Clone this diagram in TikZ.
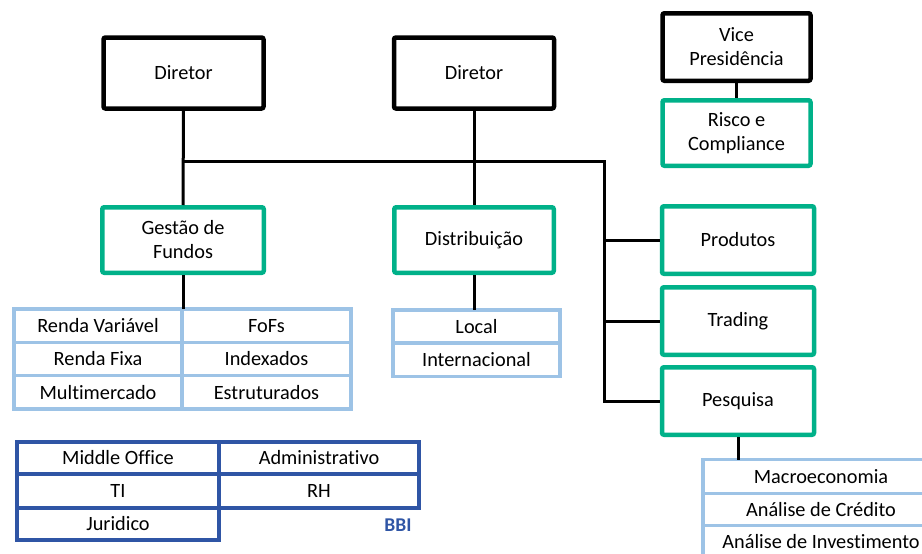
\documentclass[tikz,border=0pt]{standalone}
\usepackage{fontspec}
\setmainfont{Carlito}[Ligatures=NoCommon]
\definecolor{verde}{RGB}{0,177,137}
\definecolor{azulclaro}{RGB}{157,195,230}
\definecolor{azulbbi}{RGB}{47,85,165}
\tikzset{
  chefe/.style = {draw=black, line width=4.5pt, rounded corners=2pt,
                  align=center, inner sep=0pt, minimum width=#1},
  chefe/.default = 160pt,
  area/.style = {draw=verde, line width=4.5pt, rounded corners=2pt,
                 align=center, inner sep=0pt, minimum width=#1},
  area/.default = 152pt,
  cel/.style = {draw=#1, line width=3.5pt, inner sep=0pt, outer sep=0pt},
  cel/.default = azulclaro,
  liga/.style = {draw=black, line width=3pt}
}

\begin{document}
\begin{tikzpicture}[x=1pt, y=-1pt, font=\fontsize{20.3}{24}\selectfont]
	\def\hc{33.3pt}
	\def\bus{604}
	\clip (0,0) rectangle (922,554);

	% Diretoria
	\node[chefe, minimum height=71pt] (dirA) at (183.5,73) {Diretor};
	\node[chefe, minimum height=71pt] (dirB) at (474,73) {Diretor};
	\node[chefe=148pt, minimum height=67.5pt] (vp) at (736.5,47) {Vice\\Presidência};

	% Areas
	\node[area=148pt, minimum height=65.5pt] (risco) at (736.5,133) {Risco e\\Compliance};
	\node[area=161.5pt, minimum height=65.5pt] (gestao) at (183,240) {Gestão de\\Fundos};
	\node[area=159.5pt, minimum height=65.5pt] (distrib) at (474,240) {Distribuição};
	\node[area, minimum height=67.5pt] (produtos) at (738,240) {Produtos};
	\node[area, minimum height=67.5pt] (trading) at (738,321) {Trading};
	\node[area, minimum height=67.5pt] (pesquisa) at (738,401) {Pesquisa};

	% Gestao de fundos (tabela)
	\node[cel, minimum width=168pt, minimum height=\hc] (rv) at (98,325.7) {Renda Variável};
	\node[cel, minimum width=168pt, minimum height=\hc] (rf) at (98,359) {Renda Fixa};
	\node[cel, minimum width=168pt, minimum height=\hc] (mm) at (98,392.3) {Multimercado};
	\node[cel, minimum width=169pt, minimum height=\hc] (fofs) at (266.5,325.7) {FoFs};
	\node[cel, minimum width=169pt, minimum height=\hc] (idx) at (266.5,359) {Indexados};
	\node[cel, minimum width=169pt, minimum height=\hc] (estr) at (266.5,392.3) {Estruturados};

	% Distribuicao (tabela)
	\node[cel, minimum width=167pt, minimum height=\hc] (local) at (476.5,326.5) {Local};
	\node[cel, minimum width=167pt, minimum height=\hc] (inter) at (476.5,359.8) {Internacional};

	% Pesquisa (tabela)
	\node[cel, minimum width=236pt, minimum height=34pt] (macro) at (821,476.5) {Macroeconomia};
	\node[cel, minimum width=236pt, minimum height=32pt] (credito) at (821,509.5) {Análise de Crédito};
	\node[cel, minimum width=236pt, minimum height=32pt] (invest) at (821,541.5) {Análise de Investimento};

	% BBI
	\node[cel=azulbbi, line width=4pt, minimum width=202pt, minimum height=32pt] (mo) at (118,458) {Middle Office};
	\node[cel=azulbbi, line width=4pt, minimum width=202pt, minimum height=34pt] (ti) at (118,491) {TI};
	\node[cel=azulbbi, line width=4pt, minimum width=202pt, minimum height=32pt] (jur) at (118,524) {Juridico};
	\node[cel=azulbbi, line width=4pt, minimum width=200pt, minimum height=32pt] (adm) at (319,458) {Administrativo};
	\node[cel=azulbbi, line width=4pt, minimum width=200pt, minimum height=34pt] (rh) at (319,491) {RH};
	\node[text=azulbbi, font=\fontsize{19.5}{22}\selectfont\bfseries] (bbi) at (398,525) {BBI};

	% Ligacoes
	\coordinate (juncao) at (dirA.south |- 0,161);
	\coordinate (canto) at (\bus,161);
	\draw[liga] (dirA.south) -- (gestao.north);
	\draw[liga] (juncao) -- (canto) |- (pesquisa.west);
	\draw[liga] (canto |- produtos.west) -- (produtos.west);
	\draw[liga] (canto |- trading.west) -- (trading.west);
	\draw[liga] (dirB.south) -- (distrib.north);
	\draw[liga] (vp.south) -- (risco.north);
	\draw[liga] (gestao.south) -- (gestao.south |- rv.north);
	\draw[liga] (distrib.south) -- (distrib.south |- local.north);
	\draw[liga] (pesquisa.south) -- (pesquisa.south |- macro.north);
\end{tikzpicture}
\end{document}
